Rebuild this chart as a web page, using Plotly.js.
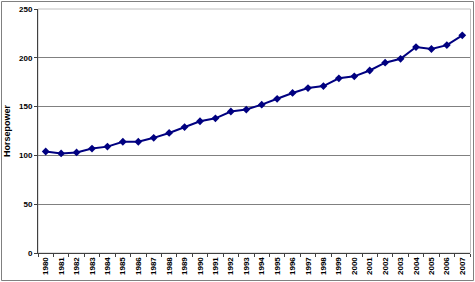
<!DOCTYPE html>
<html>
<head>
<meta charset="utf-8">
<script src="https://cdn.plot.ly/plotly-3.0.1.min.js"></script>
<style>html,body{margin:0;padding:0;background:#fff;}#chart{width:475px;height:282px;}</style>
</head>
<body>
<div id="chart"></div>
<script>
const years = ["1980","1981","1982","1983","1984","1985","1986","1987","1988","1989","1990","1991","1992","1993","1994","1995","1996","1997","1998","1999","2000","2001","2002","2003","2004","2005","2006","2007"];
const horsepower = [104,102,103,107,109,114,114,118,123,129,135,138,145,147,152,158,164,169,171,179,181,187,195,199,211,209,213,223];

const W = 475, H = 282, ML = 38, MR = 5, MT = 9, MB = 29;
const PW = W - ML - MR, PH = H - MT - MB;
const fx = px => (px - ML) / PW;
const fy = py => (H - MB - py) / PH;

const trace = {
  x: years, y: horsepower, type: 'scatter', mode: 'lines+markers',
  line: {color: '#000080', width: 2},
  marker: {symbol: 'diamond', size: 6, color: '#000080'},
  hoverinfo: 'skip', showlegend: false
};

const layout = {
  width: W, height: H,
  margin: {l: ML, r: MR, t: MT, b: MB, pad: 0},
  paper_bgcolor: '#ffffff', plot_bgcolor: '#ffffff',
  font: {family: 'Liberation Sans, Arial, sans-serif', size: 8, color: '#000'},
  xaxis: {
    type: 'category', range: [-0.5, 27.5], tickangle: -90,
    ticks: 'outside', ticklen: 3, tickcolor: '#404040', tickson: 'boundaries',
    showline: true, linecolor: '#404040', linewidth: 1, showgrid: false,
    tickfont: {size: 8, family: 'Liberation Sans, Arial, sans-serif', weight: 'bold'},
    fixedrange: true
  },
  yaxis: {
    range: [0, 250], dtick: 50, tick0: 0,
    ticks: 'outside', ticklen: 3, tickcolor: '#404040',
    showline: true, linecolor: '#404040', linewidth: 1,
    showgrid: true, gridcolor: '#808080', gridwidth: 1, zeroline: false,
    tickfont: {size: 8, family: 'Liberation Sans, Arial, sans-serif', weight: 'bold'},
    title: {text: 'Horsepower', standoff: 6, font: {size: 9, family: 'Liberation Sans, Arial, sans-serif', weight: 'bold'}},
    fixedrange: true
  },
  shapes: [
    {type: 'rect', xref: 'paper', yref: 'paper', x0: 0, x1: fx(470.5), y0: 0, y1: 1,
     line: {color: '#c0c0c0', width: 1}, layer: 'below'},
    {type: 'rect', xref: 'paper', yref: 'paper', x0: fx(1.5), x1: fx(473.5), y0: fy(280.5), y1: fy(1.5),
     line: {color: '#808080', width: 1}, layer: 'below'}
  ]
};

Plotly.newPlot('chart', [trace], layout, {displayModeBar: false, staticPlot: true});
</script>
</body>
</html>
